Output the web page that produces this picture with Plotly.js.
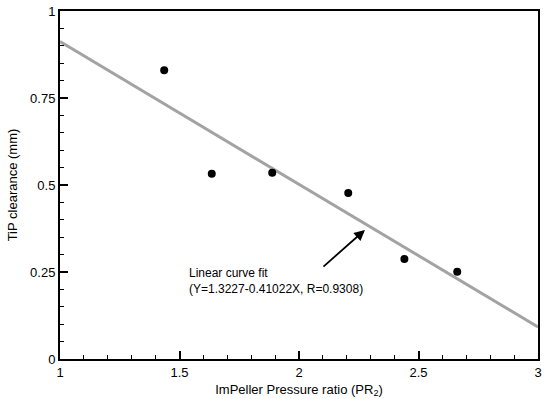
<!DOCTYPE html>
<html>
<head>
<meta charset="utf-8">
<script src="https://cdn.plot.ly/plotly-3.0.1.min.js"></script>
<style>html,body{margin:0;padding:0;background:#fff;}#chart{width:546px;height:399px;}</style>
</head>
<body>
<div id="chart"></div>
<script>
// Measured data
const pressureRatio = [1.436, 1.635, 1.888, 2.206, 2.441, 2.662];
const tipClearance = [0.830, 0.532, 0.535, 0.477, 0.287, 0.251];
// Linear fit line endpoints
const fitX = [1, 3];
const fitY = [0.912, 0.092];
const xTickVals = [1, 1.5, 2, 2.5, 3];
const xTickText = ['1', '1.5', '2', '2.5', '3'];
const yTickVals = [0, 0.25, 0.5, 0.75, 1];
const yTickText = ['0', '0.25', '0.5', '0.75', '1'];

const font = {family: 'Liberation Sans, Arial, sans-serif', size: 13, color: '#000'};

const traces = [
  {x: fitX, y: fitY, mode: 'lines', line: {color: '#a3a3a3', width: 3}, hoverinfo: 'skip'},
  {x: pressureRatio, y: tipClearance, mode: 'markers', marker: {color: '#000', size: 8}}
];

const axisCommon = {
  showline: true, linecolor: '#000', linewidth: 2, mirror: true,
  ticks: 'inside', ticklen: 8, tickwidth: 2, tickcolor: '#000',
  showgrid: false, zeroline: false, tickfont: font,
  tickmode: 'array'
};

const layout = {
  width: 546, height: 399,
  margin: {l: 60, r: 8, t: 11, b: 40},
  paper_bgcolor: '#fff', plot_bgcolor: '#fff',
  showlegend: false,
  font: font,
  xaxis: Object.assign({}, axisCommon, {
    range: [1, 3], tickvals: xTickVals, ticktext: xTickText,
    minor: {ticks: 'inside', ticklen: 4, tickwidth: 1, tickcolor: '#000', dtick: 0.1, tick0: 1, showgrid: false},
    title: {text: 'ImPeller Pressure ratio (PR<sub>2</sub>)', font: font, standoff: 6}
  }),
  yaxis: Object.assign({}, axisCommon, {
    range: [0, 1], tickvals: yTickVals, ticktext: yTickText,
    minor: {ticks: 'inside', ticklen: 4, tickwidth: 1, tickcolor: '#000', dtick: 0.05, tick0: 0, showgrid: false},
    title: {text: 'TiP clearance (mm)', font: font, standoff: 10}
  }),
  annotations: [
    {x: 2.276, y: 0.371, xref: 'x', yref: 'y', text: '', showarrow: true,
     arrowhead: 2, arrowsize: 1.2, arrowwidth: 1.8, arrowcolor: '#000', ax: -43, ay: 38},
    {x: 1.531, y: 0.224, xref: 'x', yref: 'y', text: 'Linear curve fit<br>(Y=1.3227-0.41022X, R=0.9308)',
     showarrow: false, xanchor: 'left', yanchor: 'middle', align: 'left',
     font: {family: 'Liberation Sans, Arial, sans-serif', size: 12, color: '#000'}}
  ]
};

Plotly.newPlot('chart', traces, layout, {displayModeBar: false, staticPlot: true});
</script>
</body>
</html>
